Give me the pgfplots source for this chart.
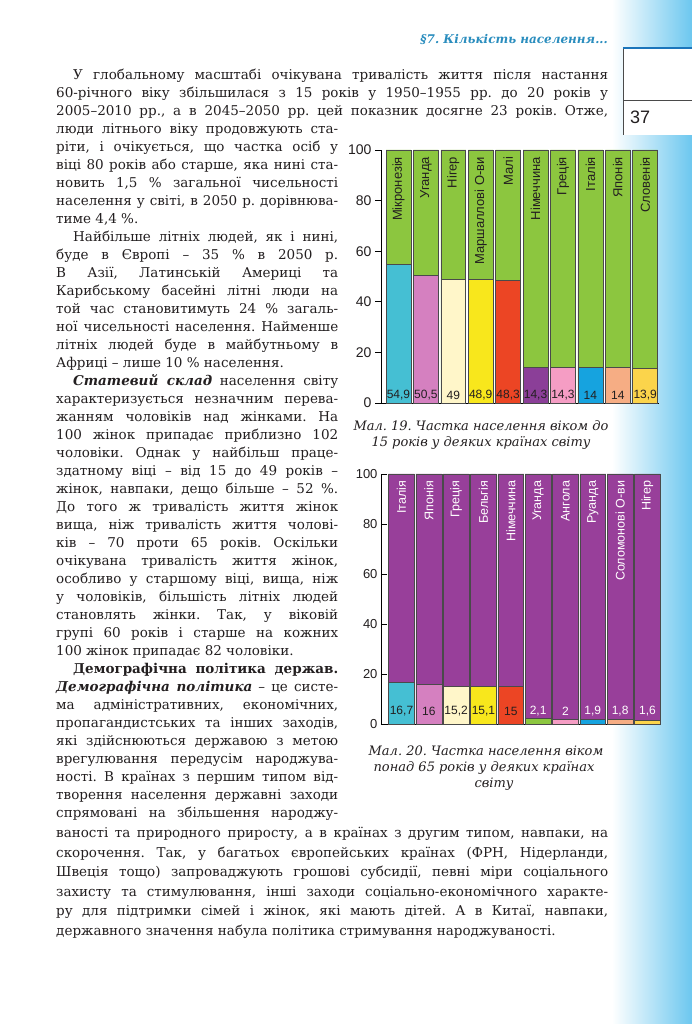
\documentclass[border=0pt]{standalone}
\usepackage{fontspec}
\setmainfont{DejaVu Serif}
\setsansfont{Liberation Sans}
\usepackage{pgfplots}
\pgfplotsset{compat=1.18}
\definecolor{txt}{HTML}{231F20}
\definecolor{grn}{HTML}{8CC63F}
\definecolor{prp}{HTML}{983F9A}
\definecolor{c0}{HTML}{45BFD3}
\definecolor{c1}{HTML}{D580C0}
\definecolor{c2}{HTML}{FFF6C9}
\definecolor{c3}{HTML}{F8E71C}
\definecolor{c4}{HTML}{EC4524}
\definecolor{c5}{HTML}{8B3F98}
\definecolor{c6}{HTML}{F59DC4}
\definecolor{c7}{HTML}{16A3DF}
\definecolor{c8}{HTML}{F6AD84}
\definecolor{c9}{HTML}{FBD44B}
\definecolor{outl}{HTML}{4A4A4A}
\definecolor{hdr}{HTML}{2A8DBE}
\definecolor{gradr}{HTML}{6CC7EF}
\definecolor{boxb}{HTML}{1B75BB}
\newcommand{\tf}{\fontsize{13.5}{15}\selectfont}
\newcommand{\J}[4]{\node[anchor=base west,inner sep=0pt,text=txt,font=\tf] at (#2pt,{(944-18*#1)*1pt}) {\makebox[#3pt][s]{#4}};}
\newcommand{\N}[3]{\node[anchor=base west,inner sep=0pt,text=txt,font=\tf] at (#2pt,{(944-18*#1)*1pt}) {#3};}
\newcommand{\JB}[4]{\node[anchor=base west,inner sep=0pt,text=txt,font=\tf] at (#2pt,{(206-19.6*(#1-41))*1pt}) {\makebox[#3pt][s]{#4}};}
\newcommand{\NB}[3]{\node[anchor=base west,inner sep=0pt,text=txt,font=\tf] at (#2pt,{(206-19.6*(#1-41))*1pt}) {#3};}
\newcommand{\bi}[1]{\textbf{\textit{#1}}}
\pgfplotsset{
  bst/.style={ybar, bar shift=0pt, draw=outl, line width=0.6pt},
  lblst/.style={only marks, mark=*, mark size=0pt, mark options={draw=none,fill=none},
    nodes near coords={\pgfplotspointmeta}, point meta=explicit symbolic},
}
\begin{document}
\frenchspacing
\begin{tikzpicture}
\useasboundingbox (0pt,0pt) rectangle (692pt,1024pt);
\fill[white] (0pt,0pt) rectangle (692pt,1024pt);
\shade[left color=white, right color=gradr] (612pt,0pt) rectangle (692pt,1024pt);
% page number box
\fill[white] (623pt,976pt) rectangle (692pt,889pt);
\draw[outl, line width=0.6pt] (623pt,976pt) -- (623pt,889pt);
\draw[outl, line width=0.6pt] (623pt,924pt) -- (692pt,924pt);
\draw[boxb, line width=2.5pt] (623pt,976pt) -- (692pt,976pt);
\node[anchor=base west, inner sep=0pt, font=\fontsize{18}{18}\selectfont\sffamily, text=txt] at (630pt,900pt) {37};
% header
\node[anchor=base east, inner sep=0pt, text=hdr, font=\fontsize{12}{14}\selectfont\bfseries\itshape] at (608pt,980pt) {§7. Кількість населення...};

% body text
\J{0}{73}{535}{У глобальному масштабі очікувана тривалість життя після настання}
\J{1}{56}{552}{60-річного віку збільшилася з 15 років у 1950–1955 рр. до 20 років у}
\J{2}{56}{552}{2005–2010 рр., а в 2045–2050 рр. цей показник досягне 23 років. Отже,}
\J{3}{56}{282}{люди літнього віку продовжують ста-}
\J{4}{56}{282}{ріти, і очікується, що частка осіб у}
\J{5}{56}{282}{віці 80 років або старше, яка нині ста-}
\J{6}{56}{282}{новить 1,5 \% загальної чисельності}
\J{7}{56}{282}{населення у світі, в 2050 р. дорівнюва-}
\N{8}{56}{тиме 4,4 \%.}
\J{9}{73}{265}{Найбільше літніх людей, як і нині,}
\J{10}{56}{282}{буде в Європі – 35 \% в 2050 р.}
\J{11}{56}{282}{В Азії, Латинській Америці та}
\J{12}{56}{282}{Карибському басейні літні люди на}
\J{13}{56}{282}{той час становитимуть 24 \% загаль-}
\J{14}{56}{282}{ної чисельності населення. Найменше}
\J{15}{56}{282}{літніх людей буде в майбутньому в}
\N{16}{56}{Африці – лише 10 \% населення.}
\J{17}{73}{265}{\bi{Статевий склад} населення світу}
\J{18}{56}{282}{характеризується незначним перева-}
\J{19}{56}{282}{жанням чоловіків над жінками. На}
\J{20}{56}{282}{100 жінок припадає приблизно 102}
\J{21}{56}{282}{чоловіки. Однак у найбільш праце-}
\J{22}{56}{282}{здатному віці – від 15 до 49 років –}
\J{23}{56}{282}{жінок, навпаки, дещо більше – 52 \%.}
\J{24}{56}{282}{До того ж тривалість життя жінок}
\J{25}{56}{282}{вища, ніж тривалість життя чолові-}
\J{26}{56}{282}{ків – 70 проти 65 років. Оскільки}
\J{27}{56}{282}{очікувана тривалість життя жінок,}
\J{28}{56}{282}{особливо у старшому віці, вища, ніж}
\J{29}{56}{282}{у чоловіків, більшість літніх людей}
\J{30}{56}{282}{становлять жінки. Так, у віковій}
\J{31}{56}{282}{групі 60 років і старше на кожних}
\N{32}{56}{100 жінок припадає 82 чоловіки.}
\J{33}{73}{265}{\textbf{Демографічна політика держав.}}
\J{34}{56}{282}{\bi{Демографічна політика} – це систе-}
\J{35}{56}{282}{ма адміністративних, економічних,}
\J{36}{56}{282}{пропагандистських та інших заходів,}
\J{37}{56}{282}{які здійснюються державою з метою}
\J{38}{56}{282}{врегулювання передусім народжува-}
\J{39}{56}{282}{ності. В країнах з першим типом від-}
\J{40}{56}{282}{творення населення державні заходи}
\J{41}{56}{282}{спрямовані на збільшення народжу-}
\JB{42}{56}{552}{ваності та природного приросту, а в країнах з другим типом, навпаки, на}
\JB{43}{56}{552}{скорочення. Так, у багатьох європейських країнах (ФРН, Нідерланди,}
\JB{44}{56}{552}{Швеція тощо) запроваджують грошові субсидії, певні міри соціального}
\JB{45}{56}{552}{захисту та стимулювання, інші заходи соціально-економічного характе-}
\JB{46}{56}{552}{ру для підтримки сімей і жінок, які мають дітей. А в Китаї, навпаки,}
\NB{47}{56}{державного значення набула політика стримування народжуваності.}

% captions
\node[anchor=base, inner sep=0pt, text=txt, font=\fontsize{13}{15}\selectfont\itshape] at (481pt,593pt) {Мал. 19. Частка населення віком до};
\node[anchor=base, inner sep=0pt, text=txt, font=\fontsize{13}{15}\selectfont\itshape] at (481pt,577pt) {15 років у деяких країнах світу};
\node[anchor=base, inner sep=0pt, text=txt, font=\fontsize{13}{15}\selectfont\itshape] at (486pt,268pt) {Мал. 20. Частка населення віком};
\node[anchor=base, inner sep=0pt, text=txt, font=\fontsize{13}{15}\selectfont\itshape] at (484pt,252pt) {понад 65 років у деяких країнах};
\node[anchor=base, inner sep=0pt, text=txt, font=\fontsize{13}{15}\selectfont\itshape] at (494pt,236pt) {світу};

% Chart 1
\begin{axis}[at={(381pt,621pt)}, anchor=south west, scale only axis,
  width=277.9pt, height=253pt, xmin=-0.638, xmax=9.5, ymin=0, ymax=100,
  axis x line*=bottom, axis y line*=left, axis line style={-, black, line width=0.8pt},
  x axis line style={-}, y axis line style={-},
  xtick=\empty, ytick={0,20,40,60,80,100}, tick align=outside, major tick length=6pt,
  ytick style={black, line width=0.8pt},
  yticklabel style={font=\fontsize{14}{14}\selectfont\sffamily, text=txt},
  /pgf/number format/assume math mode=true, clip=false]
\addplot[bst, bar width=0.91, fill=grn] coordinates {(0,100) (1,100) (2,100) (3,100) (4,100) (5,100) (6,100) (7,100) (8,100) (9,100)};
\addplot[bst, bar width=0.91, fill=c0] coordinates {(0,54.9)};
\addplot[bst, bar width=0.91, fill=c1] coordinates {(1,50.5)};
\addplot[bst, bar width=0.91, fill=c2] coordinates {(2,49)};
\addplot[bst, bar width=0.91, fill=c3] coordinates {(3,48.9)};
\addplot[bst, bar width=0.91, fill=c4] coordinates {(4,48.3)};
\addplot[bst, bar width=0.91, fill=c5] coordinates {(5,14.3)};
\addplot[bst, bar width=0.91, fill=c6] coordinates {(6,14.3)};
\addplot[bst, bar width=0.91, fill=c7] coordinates {(7,14)};
\addplot[bst, bar width=0.91, fill=c8] coordinates {(8,14)};
\addplot[bst, bar width=0.91, fill=c9] coordinates {(9,13.9)};
\addplot[lblst, every node near coord/.append style={anchor=center, inner sep=0pt, text=txt, font=\fontsize{12}{12}\selectfont\sffamily}]
 table[x=x, y=y, meta=t, col sep=semicolon] {
x;y;t
0;3.2;54,9
1;3.2;50,5
2;3.2;49
3;3.2;48,9
4;3.2;48,3
5;3.2;14,3
6;3.2;14,3
7;3.2;14
8;3.2;14
9;3.2;13,9
};
\addplot[lblst, every node near coord/.append style={rotate=90, anchor=east, inner sep=0pt, text=txt, font=\fontsize{13}{13}\selectfont\sffamily}]
 table[x=x, y=y, meta=t, col sep=semicolon] {
x;y;t
0;97.3;Мікронезія
1;97.3;Уганда
2;97.3;Нігер
3;97.3;Маршаллові О-ви
4;97.3;Малі
5;97.3;Німеччина
6;97.3;Греція
7;97.3;Італія
8;97.3;Японія
9;97.3;Словенія
};
\end{axis}

% Chart 2
\begin{axis}[at={(381pt,300pt)}, anchor=south west, scale only axis,
  width=280.1pt, height=250pt, xmin=-0.75, xmax=9.5, ymin=0, ymax=100,
  axis x line*=bottom, axis y line*=left, axis line style={-, black, line width=0.8pt},
  x axis line style={-}, y axis line style={-},
  xtick=\empty, ytick={0,20,40,60,80,100}, tick align=inside, major tick length=6pt,
  ytick style={black, line width=0.8pt},
  yticklabel style={font=\fontsize{13}{13}\selectfont\sffamily, text=txt},
  /pgf/number format/assume math mode=true, clip=false]
\addplot[bst, bar width=0.95, fill=prp] coordinates {(0,100) (1,100) (2,100) (3,100) (4,100) (5,100) (6,100) (7,100) (8,100) (9,100)};
\addplot[bst, bar width=0.95, fill=c0] coordinates {(0,16.7)};
\addplot[bst, bar width=0.95, fill=c1] coordinates {(1,16)};
\addplot[bst, bar width=0.95, fill=c2] coordinates {(2,15.2)};
\addplot[bst, bar width=0.95, fill=c3] coordinates {(3,15.1)};
\addplot[bst, bar width=0.95, fill=c4] coordinates {(4,15)};
\addplot[bst, bar width=0.95, fill=grn] coordinates {(5,2.1)};
\addplot[bst, bar width=0.95, fill=c6] coordinates {(6,2)};
\addplot[bst, bar width=0.95, fill=c7] coordinates {(7,1.9)};
\addplot[bst, bar width=0.95, fill=c8] coordinates {(8,1.8)};
\addplot[bst, bar width=0.95, fill=c9] coordinates {(9,1.6)};
\addplot[lblst, every node near coord/.append style={anchor=center, inner sep=0pt, text=txt, font=\fontsize{12}{12}\selectfont\sffamily}]
 table[x=x, y=y, meta=t, col sep=semicolon] {
x;y;t
0;5.2;16,7
1;5.2;16
2;5.2;15,2
3;5.2;15,1
4;5.2;15
};
\addplot[lblst, every node near coord/.append style={anchor=center, inner sep=0pt, text=white, font=\fontsize{12}{12}\selectfont\sffamily}]
 table[x=x, y=y, meta=t, col sep=semicolon] {
x;y;t
5;5.2;2,1
6;5.2;2
7;5.2;1,9
8;5.2;1,8
9;5.2;1,6
};
\addplot[lblst, every node near coord/.append style={rotate=90, anchor=east, inner sep=0pt, text=white, font=\fontsize{12.5}{12.5}\selectfont\sffamily}]
 table[x=x, y=y, meta=t, col sep=semicolon] {
x;y;t
0;97.3;Італія
1;97.3;Японія
2;97.3;Греція
3;97.3;Бельгія
4;97.3;Німеччина
5;97.3;Уганда
6;97.3;Ангола
7;97.3;Руанда
8;97.3;Соломонові О-ви
9;97.3;Нігер
};
\end{axis}
\end{tikzpicture}
\end{document}
